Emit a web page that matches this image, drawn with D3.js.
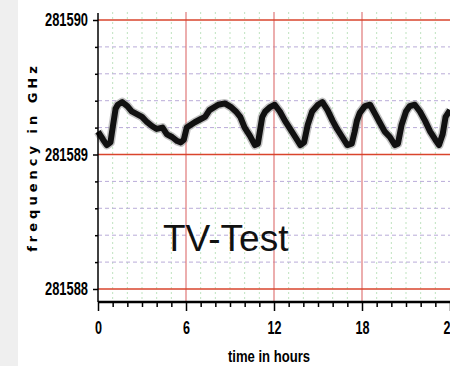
<!DOCTYPE html>
<html>
<head>
<meta charset="utf-8">
<script src="https://cdn.jsdelivr.net/npm/d3@7"></script>
<style>
	body { margin: 0; background: #fff; }
	svg { display: block; }
</style>
</head>
<body>
<div id="chart"></div>
<script>
// time in hours
const hours = [0, 0.35, 0.6, 0.85, 1.0, 1.2, 1.35, 1.65, 2.0, 2.3, 2.65, 3.0, 3.35, 3.7, 4.0, 4.4, 4.7, 5.05, 5.4, 5.65, 5.85,
	6.05, 6.6, 6.95, 7.3, 7.6, 8.2, 8.65, 9.1, 9.4, 9.7, 10.0, 10.35, 10.7, 10.9, 11.2, 11.4, 11.7,
	12.05, 12.4, 12.75, 13.1, 13.45, 13.8, 14.05, 14.3, 14.6, 15.0, 15.3, 15.65, 16.0, 16.3, 16.65, 17.0, 17.3, 17.5, 17.65, 17.85,
	18.2, 18.55, 18.9, 19.2, 19.55, 19.9, 20.25, 20.45, 20.7, 21.0, 21.25, 21.6, 21.95, 22.3, 22.65, 23.0, 23.25, 23.5, 23.7, 24.0];

// frequency in GHz
const freq = [281589.17, 281589.11, 281589.07, 281589.09, 281589.20, 281589.34, 281589.37, 281589.39, 281589.36, 281589.32, 281589.30,
	281589.28, 281589.24, 281589.21, 281589.19, 281589.20, 281589.15, 281589.13, 281589.10, 281589.09, 281589.11,
	281589.20, 281589.24, 281589.26, 281589.28, 281589.33, 281589.37, 281589.38, 281589.35, 281589.32, 281589.28, 281589.20,
	281589.14, 281589.07, 281589.08, 281589.28, 281589.32, 281589.35,
	281589.37, 281589.32, 281589.25, 281589.19, 281589.13, 281589.07, 281589.09, 281589.22, 281589.32, 281589.37, 281589.39,
	281589.33, 281589.25, 281589.19, 281589.13, 281589.07, 281589.08, 281589.17, 281589.25, 281589.31,
	281589.36, 281589.37, 281589.30, 281589.24, 281589.17, 281589.13, 281589.07, 281589.08, 281589.22, 281589.32, 281589.36,
	281589.37, 281589.32, 281589.25, 281589.17, 281589.11, 281589.07, 281589.15, 281589.28, 281589.33];

const y_ticks = [281588, 281589, 281590];
const y_minor = [281588.2, 281588.4, 281588.6, 281588.8, 281589.2, 281589.4, 281589.6, 281589.8];
const x_ticks = [0, 6, 12, 18, 24];
const x_minor = [1, 2, 3, 4, 5, 7, 8, 9, 10, 11, 13, 14, 15, 16, 17, 19, 20, 21, 22, 23];

const width = 450;
const height = 366;
const plot_left = 98, plot_right = 450, plot_top = 12, plot_bottom = 302;

let svg = d3.select("#chart").append("svg")
	.attr("width", width)
	.attr("height", height);

// grey strip on the left
svg.append("rect")
	.attr("x", 0).attr("y", 0)
	.attr("width", 18).attr("height", height)
	.attr("fill", "#efefef");

let x = d3.scaleLinear().domain([0, 24]).range([plot_left, plot_right]);
let y = d3.scaleLinear().domain([281587.9033, 281590.0595]).range([plot_bottom, plot_top]);

let grid = svg.append("g").attr("class", "grid");

grid.selectAll(".vminor")
	.data(x_minor)
	.enter().append("line")
	.attr("x1", function(d) { return x(d); })
	.attr("x2", function(d) { return x(d); })
	.attr("y1", plot_top).attr("y2", plot_bottom)
	.attr("stroke", "#bfe3bf")
	.attr("stroke-dasharray", "2,3");

grid.selectAll(".hminor")
	.data(y_minor)
	.enter().append("line")
	.attr("x1", plot_left).attr("x2", plot_right)
	.attr("y1", function(d) { return y(d); })
	.attr("y2", function(d) { return y(d); })
	.attr("stroke", "#b9acd8")
	.attr("stroke-dasharray", "4,3");

grid.selectAll(".vmajor")
	.data([6, 12, 18])
	.enter().append("line")
	.attr("x1", function(d) { return x(d); })
	.attr("x2", function(d) { return x(d); })
	.attr("y1", plot_top).attr("y2", plot_bottom)
	.attr("stroke", "#e07878")
	.attr("stroke-width", 1.2);

grid.selectAll(".hmajor")
	.data(y_ticks)
	.enter().append("line")
	.attr("x1", plot_left).attr("x2", plot_right)
	.attr("y1", function(d) { return y(d); })
	.attr("y2", function(d) { return y(d); })
	.attr("stroke", "#d9442c")
	.attr("stroke-width", 1.5);

// TV-Test label
svg.append("text")
	.attr("x", 163)
	.attr("y", 251)
	.attr("font-family", "Liberation Sans, Arial, sans-serif")
	.attr("font-size", 37)
	.attr("fill", "#111")
	.text("TV-Test");

// trace
let pts = hours.map(function(h, i) { return [h, freq[i]]; });
let line = d3.line()
	.x(function(d) { return x(d[0]); })
	.y(function(d) { return y(d[1]); });

svg.append("path")
	.datum(pts)
	.attr("d", line)
	.attr("fill", "none")
	.attr("stroke", "#888")
	.attr("stroke-width", 9)
	.attr("stroke-linejoin", "round")
	.attr("opacity", 0.5);

svg.append("path")
	.datum(pts)
	.attr("d", line)
	.attr("fill", "none")
	.attr("stroke", "#111")
	.attr("stroke-width", 6)
	.attr("stroke-linejoin", "round");

const tick_font = "Liberation Sans, Arial, sans-serif";

// y axis
let y_axis = svg.append("g")
	.attr("transform", "translate(" + plot_left + ",0)")
	.call(d3.axisLeft(y).tickValues(y_ticks).tickSize(5).tickPadding(5).tickFormat(d3.format("d")));
y_axis.select(".domain").attr("d", "M0," + (plot_top + 1) + "V" + plot_bottom).attr("stroke-width", 1.5);
y_axis.selectAll(".tick line").attr("stroke-width", 1.5);
y_axis.selectAll(".tick text")
	.attr("font-family", tick_font)
	.attr("font-weight", "bold")
	.attr("font-size", 18)
	.attr("textLength", 43)
	.attr("lengthAdjust", "spacingAndGlyphs")
	.attr("fill", "#000");

svg.append("g")
	.attr("transform", "translate(" + plot_left + ",0)")
	.call(d3.axisLeft(y).tickValues(y_minor).tickSize(3).tickFormat(""))
	.call(function(g) { g.select(".domain").remove(); })
	.selectAll("line").attr("stroke-width", 1.5);

// x axis
let x_axis = svg.append("g")
	.attr("transform", "translate(0," + plot_bottom + ")")
	.call(d3.axisBottom(x).tickValues(x_ticks).tickSize(9).tickPadding(10).tickFormat(d3.format("d")));
x_axis.select(".domain").attr("d", "M" + plot_left + ",0H" + plot_right).attr("stroke-width", 2.5);
x_axis.selectAll(".tick line").attr("stroke-width", 1.5);
x_axis.selectAll(".tick text")
	.attr("font-family", tick_font)
	.attr("font-weight", "bold")
	.attr("font-size", 18)
	.attr("textLength", function(d) { return String(d).length * 7; })
	.attr("lengthAdjust", "spacingAndGlyphs")
	.attr("fill", "#000");

svg.append("g")
	.attr("transform", "translate(0," + plot_bottom + ")")
	.call(d3.axisBottom(x).tickValues(x_minor).tickSize(5).tickFormat(""))
	.call(function(g) { g.select(".domain").remove(); })
	.selectAll("line").attr("stroke-width", 1.5);

// axis titles
svg.append("text")
	.attr("x", 269)
	.attr("y", 362)
	.attr("text-anchor", "middle")
	.attr("font-family", tick_font)
	.attr("font-weight", "bold")
	.attr("font-size", 17)
	.attr("textLength", 82)
	.attr("lengthAdjust", "spacingAndGlyphs")
	.attr("fill", "#000")
	.text("time in hours");

svg.append("text")
	.attr("transform", "translate(37,157) rotate(-90)")
	.attr("text-anchor", "middle")
	.attr("font-family", "DejaVu Sans, Verdana, sans-serif")
	.attr("font-weight", "bold")
	.attr("font-size", 13)
	.attr("letter-spacing", 4)
	.attr("fill", "#000")
	.text("frequency in GHz");
</script>
</body>
</html>
